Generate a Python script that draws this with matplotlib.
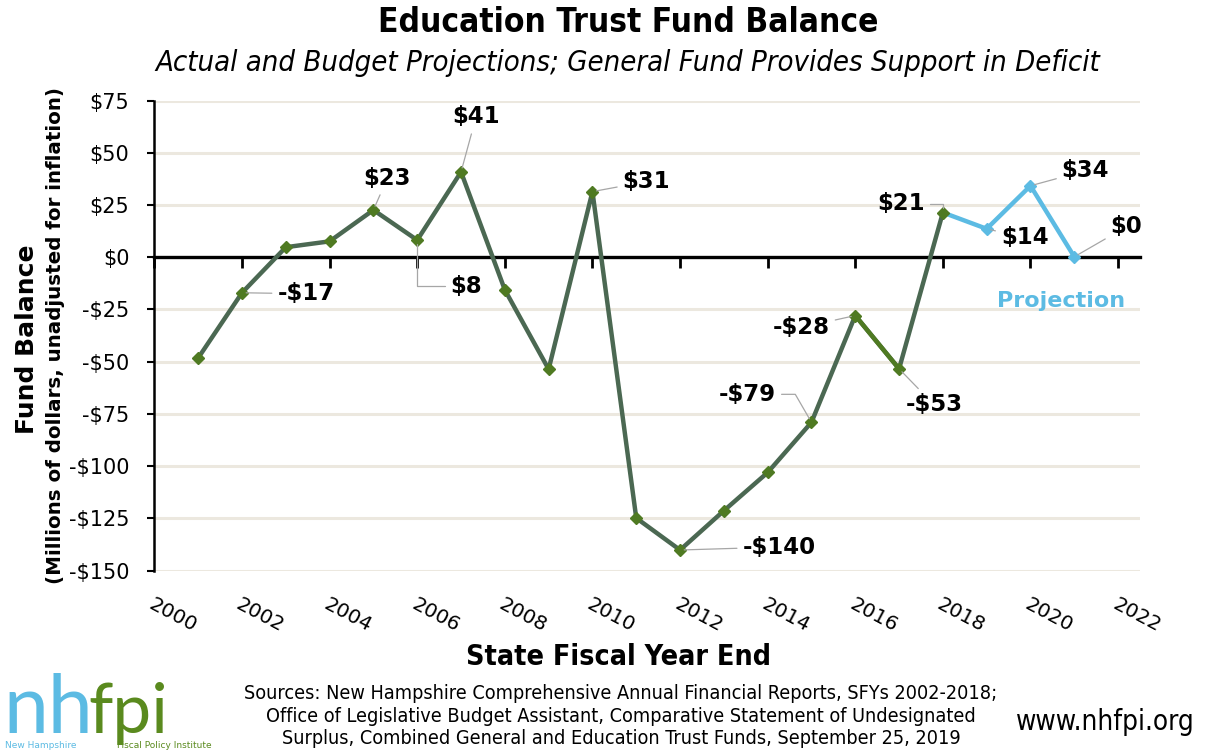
import matplotlib
matplotlib.use("Agg")
import matplotlib.pyplot as plt
from matplotlib import font_manager as fm

# ---------------- data ----------------
years = [2001, 2002, 2003, 2004, 2005, 2006, 2007, 2008, 2009, 2010, 2011,
         2012, 2013, 2014, 2015, 2016, 2017, 2018, 2019, 2020, 2021]
balance = [-48.2, -17.0, 4.8, 7.6, 22.6, 8.2, 40.8, -15.6, -53.6, 31.4, -124.8,
           -140.1, -121.3, -103.0, -79.0, -27.9, -53.4, 21.4, 13.6, 34.2, 0.2]
first_projection_year = 2018          # projection line starts here
highlight_years = [2016, 2017]        # olive segment
labeled_years = [2002, 2005, 2006, 2007, 2010, 2012, 2015, 2016, 2017,
                 2018, 2019, 2020, 2021]
y_ticks = [-150, -125, -100, -75, -50, -25, 0, 25, 50, 75]
x_ticks = list(range(2000, 2023, 2))

title = "Education Trust Fund Balance"
subtitle = "Actual and Budget Projections; General Fund Provides Support in Deficit"
xlabel = "State Fiscal Year End"
ylabel1 = "Fund Balance"
ylabel2 = "(Millions of dollars, unadjusted for inflation)"
sources = ("Sources: New Hampshire Comprehensive Annual Financial Reports, SFYs 2002-2018;\n"
           "Office of Legislative Budget Assistant, Comparative Statement of Undesignated\n"
           "Surplus, Combined General and Education Trust Funds, September 25, 2019")

# ---------------- styles ----------------
DARK = "#4b6852"
OLIVE = "#4f7a22"
BLUE = "#5cbbe3"
LOGO_GREEN = "#5a8a1e"
GRID = "#ece8df"
LEADER = "#a6a6a6"

# label offsets in pixels (dx right, dy up) and connector style
label_style = {
    2002: ((64, -1), "arc3"),
    2005: ((14, 32), "arc3"),
    2006: ((49, -46), "angle,angleA=0,angleB=90,rad=0"),
    2007: ((15, 55), "arc3"),
    2010: ((54, 10), "arc3"),
    2012: ((99, 3), "arc3"),
    2015: ((-64, 28), "angle,angleA=0,angleB=120,rad=0"),
    2016: ((-54, -12), "arc3"),
    2017: ((35, -36), "arc3"),
    2018: ((-42, 9), "angle,angleA=0,angleB=90,rad=0"),
    2019: ((38, -9), "arc3"),
    2020: ((55, 15), "arc3"),
    2021: ((52, 30), "arc3"),
}

# choose a narrow font (Tahoma-like) if available
entries = fm.fontManager.ttflist
names = {f.name for f in entries}
narrow = dict(family="DejaVu Sans")
if "DejaVu Sans Condensed" in names:
    narrow = dict(family="DejaVu Sans Condensed")
elif any(f.name == "DejaVu Sans" and "condensed" in str(f.stretch) for f in entries):
    narrow = dict(family="DejaVu Sans", fontstretch="condensed")
elif "Liberation Sans Narrow" in names:
    narrow = dict(family="Liberation Sans Narrow")
is_narrow = narrow["family"] != "DejaVu Sans" or "fontstretch" in narrow

plt.rcParams["font.family"] = "DejaVu Sans"

W, H = 1208, 755
fig = plt.figure(figsize=(W / 100, H / 100), dpi=100)
fig.patch.set_facecolor("white")


def fx(px):
    return px / W


def fy(py):
    return 1 - py / H


ax_left, ax_right, ax_top, ax_bot = 154.4, 1140, 100.5, 570.7
ax = fig.add_axes([fx(ax_left), fy(ax_bot), fx(ax_right - ax_left), (ax_bot - ax_top) / H])
ax.set_xlim(2000, 2022.5)
ax.set_ylim(-150, 75)

# grid
ax.set_yticks(y_ticks)
ax.set_yticklabels([f"${v}" if v >= 0 else f"-${-v}" for v in y_ticks], fontsize=15)
ax.yaxis.grid(True, color=GRID, lw=2.2, zorder=0)
ax.set_axisbelow(True)
ax.tick_params(axis="y", direction="out", length=5, width=1.5, pad=13, colors="black")

for s in ["top", "right", "bottom"]:
    ax.spines[s].set_visible(False)
ax.spines["left"].set_linewidth(1.8)
ax.spines["left"].set_color("black")

# x tick labels at the bottom
ax.set_xticks(x_ticks)
ax.set_xticklabels([str(x) for x in x_ticks], fontsize=14.5, rotation=-28,
                   ha="left", va="top", rotation_mode="anchor")
ax.tick_params(axis="x", length=0, pad=17)

# zero line with downward ticks (secondary axis placed at y = 0)
zero_frac = (0 - (-150)) / (75 - (-150))
sec = ax.secondary_xaxis(zero_frac)
sec.set_alignment("bottom")
sec.set_xticks(x_ticks)
sec.set_xticklabels([""] * len(x_ticks))
sec.tick_params(axis="x", direction="out", length=8, width=2, labelbottom=False,
                labeltop=False, color="black")
sec.spines["top"].set_visible(False)
sec.spines["bottom"].set_visible(True)
sec.spines["bottom"].set_linewidth(2.4)
sec.spines["bottom"].set_color("black")
sec.set_zorder(2)

# series
split = years.index(first_projection_year)
act_x, act_y = years[:split + 1], balance[:split + 1]
proj_x, proj_y = years[split:], balance[split:]
h0 = years.index(highlight_years[0])
h1 = years.index(highlight_years[1])

ax.plot(proj_x, proj_y, color=BLUE, lw=3.2, marker="D", ms=6, mfc=BLUE, mec=BLUE,
        markevery=list(range(1, len(proj_x))), zorder=3, solid_joinstyle="miter")
ax.plot(act_x, act_y, color=DARK, lw=3.2, zorder=4, solid_joinstyle="miter")
ax.plot(years[h0:h1 + 1], balance[h0:h1 + 1], color=OLIVE, lw=3.2, zorder=5)
ax.plot(act_x, act_y, ls="none", marker="D", ms=6, mfc=OLIVE, mec=OLIVE, zorder=6)

# data labels
for yr in labeled_years:
    v = balance[years.index(yr)]
    r = int(round(v))
    txt = f"${r}" if r >= 0 else f"-${-r}"
    (dx, dy), cs = label_style[yr]
    ax.annotate(txt, xy=(yr, v), xytext=(dx, dy), textcoords="offset pixels",
                ha="center", va="center", fontsize=16.5, fontweight="bold",
                color="black", zorder=7,
                arrowprops=dict(arrowstyle="-", color=LEADER, lw=0.9,
                                shrinkA=2, shrinkB=3, connectionstyle=cs))

fig.text(fx(1061), fy(301), "Projection", ha="center", va="center", fontsize=16,
         fontweight="bold", color=BLUE)

# titles
fig.text(fx(628), fy(22), title, ha="center", va="center",
         fontsize=(24 if is_narrow else 21), fontweight="bold", **narrow)
fig.text(fx(628), fy(63), subtitle, ha="center", va="center",
         fontsize=(21 if is_narrow else 17), style="italic", **narrow)

fig.text(fx(618), fy(657), xlabel, ha="center", va="center",
         fontsize=(20.5 if is_narrow else 17.5), fontweight="bold", **narrow)

fig.text(fx(27), fy(339), ylabel1, ha="center", va="center", rotation=90,
         fontsize=18, fontweight="bold")
fig.text(fx(56), fy(336), ylabel2, ha="center", va="center", rotation=90,
         fontsize=14.3, fontweight="bold")

fig.text(fx(621), fy(716), sources, ha="center", va="center",
         fontsize=(14.2 if is_narrow else 12.5), linespacing=1.25, **narrow)
fig.text(fx(1105), fy(722), "www.nhfpi.org", ha="center", va="center",
         fontsize=(20 if is_narrow else 16), **narrow)

# logo as text
fig.text(fx(3), fy(733), "nh", ha="left", va="baseline", fontsize=58,
         color=BLUE, family="Lato")
fig.text(fx(88), fy(733), "fpi", ha="left", va="baseline", fontsize=50,
         color=LOGO_GREEN, family="Lato")
fig.text(fx(5), fy(746), "New Hampshire", ha="left", va="center", fontsize=6.5,
         color=BLUE)
fig.text(fx(117), fy(746), "Fiscal Policy Institute", ha="left", va="center",
         fontsize=6.5, color=LOGO_GREEN)

fig.savefig("out.png", dpi=100, facecolor="white")
